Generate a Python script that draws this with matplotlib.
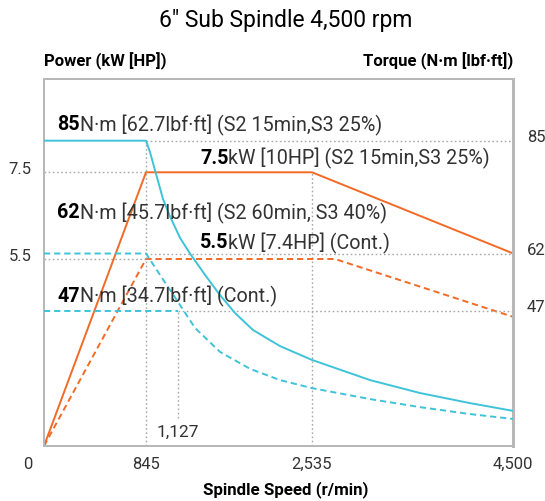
import numpy as np
import matplotlib.pyplot as plt
from matplotlib import transforms
from matplotlib.scale import FuncScale

plt.rcParams['font.family'] = ['Roboto', 'DejaVu Sans']

# ===== data =====
speed_ticks = [0, 845, 2535, 4500]
speed_ticklabels = ['0', '845', '2,535', '4,500']
speed_extra = 1127
power_ticks = [5.5, 7.5]
torque_ticks = [47, 62, 85]

# power curves (kW)
p_s2_speed = [0, 845, 2535, 4500]
p_s2_kw = [0, 7.5, 7.5, 5.63]
p_cont_speed = [0, 845, 2760, 4500]
p_cont_kw = [0, 5.5, 5.5, 3.8]

# torque curves (N·m)
t_s2_speed = [0, 845, 880, 924, 995, 1056, 1148, 1253, 1411, 1568, 1726, 1915,
              2199, 2535, 3102, 3591, 4079, 4500]
t_s2_nm = [85, 85, 82.7, 79.0, 73.1, 69.6, 65.2, 62, 56.4, 51.1, 46.2, 40.3,
           34.7, 29.9, 22.9, 18.4, 14.9, 12.2]
t_60_speed = [0, 845, 968, 1127, 1306, 1568, 1884, 2199, 2535, 3102, 3591, 4079, 4500]
t_60_nm = [62, 62, 56.4, 49.3, 41.0, 32.7, 26.8, 22.9, 20.1, 16.3, 13.5, 11.1, 9.4]
t_cont_speed = [0, 1127]
t_cont_nm = [47, 47]

# ===== layout: the original chart is schematic, axes are anchored at the labelled values =====
x_anchor_val = [0, 845, 1127, 2535, 4500]
x_anchor_pos = [0, 0.2175, 0.2857, 0.5714, 1.0]
t_anchor_val = [0, 47, 62, 85, 97.6]
t_anchor_pos = [0, 0.3687, 0.5245, 0.8319, 1.0]
p_anchor_val = [0, 5.5, 7.5, 9.65]
p_anchor_pos = [0, 0.5095, 0.7458, 1.0]


def piecewise(vals, pos):
    fwd = lambda v: np.interp(v, vals, pos)
    inv = lambda u: np.interp(u, pos, vals)
    return fwd, inv


CYAN = '#3fc3d9'
ORANGE = '#f26a25'
GRID = '#a8a8a8'
TXT = '#333333'
W, H = 545, 501
DASH = (0, (3.2, 2.0))

fig = plt.figure(figsize=(W / 100, H / 100), dpi=100)
ax = fig.add_axes([44 / W, 1 - 446 / H, 469 / W, 367 / H])
ax2 = ax.twinx()

ax.set_xscale(FuncScale(ax, piecewise(x_anchor_val, x_anchor_pos)))
ax.set_yscale(FuncScale(ax, piecewise(p_anchor_val, p_anchor_pos)))
ax2.set_yscale(FuncScale(ax2, piecewise(t_anchor_val, t_anchor_pos)))
ax.set_xlim(0, 4500)
ax.set_ylim(0, p_anchor_val[-1])
ax2.set_ylim(0, t_anchor_val[-1])

# dotted guides
dot = dict(color=GRID, lw=1, ls=(0, (1.2, 1.8)), zorder=1)
ax2.plot([845, 4500], [85, 85], **dot)
ax2.plot([845, 4500], [62, 62], **dot)
ax2.plot([speed_extra, 4500], [47, 47], **dot)
ax.plot([0, 845], [7.5, 7.5], **dot)
ax.plot([0, 845], [5.5, 5.5], **dot)
ax2.plot([845, 845], [0, 85], **dot)
ax2.plot([speed_extra, speed_extra], [9.7, 47], **dot)
ax.plot([2535, 2535], [0, 7.5], **dot)

# curves
ax.plot(p_s2_speed, p_s2_kw, color=ORANGE, lw=1.4, zorder=3)
ax.plot(p_cont_speed, p_cont_kw, color=ORANGE, lw=1.4, ls=DASH, zorder=3)
ax2.plot(t_s2_speed, t_s2_nm, color=CYAN, lw=1.4, zorder=3)
ax2.plot(t_60_speed, t_60_nm, color=CYAN, lw=1.4, ls=DASH, zorder=3)
ax2.plot(t_cont_speed, t_cont_nm, color=CYAN, lw=1.4, ls=DASH, zorder=3)

# ticks
ax.set_xticks(speed_ticks)
ax.set_xticklabels(speed_ticklabels)
ax.set_yticks(power_ticks)
ax.set_yticklabels([str(v) for v in power_ticks])
ax2.set_yticks(torque_ticks)
ax2.set_yticklabels([str(v) for v in torque_ticks])
ax.minorticks_off()
ax2.minorticks_off()
ax.tick_params(axis='x', length=0, pad=8, labelsize=12, labelcolor=TXT)
ax.tick_params(axis='y', length=0, pad=9, labelsize=12, labelcolor=TXT)
ax2.tick_params(axis='y', length=0, pad=10, labelsize=12, labelcolor=TXT)

up = transforms.ScaledTranslation(0, 4.5 / 100, fig.dpi_scale_trans)
for lab in ax.get_yticklabels() + ax2.get_yticklabels():
    lab.set_transform(lab.get_transform() + up)
left = transforms.ScaledTranslation(-16 / 100, 0, fig.dpi_scale_trans)
zero_lab = ax.get_xticklabels()[0]
zero_lab.set_transform(zero_lab.get_transform() + left)

for a in (ax, ax2):
    for s in a.spines.values():
        s.set_color('#b8b8b8')
        s.set_linewidth(1.3)
ax2.spines['right'].set_linewidth(2.2)
ax.set_facecolor('none')


def px(x, y):
    return x / W, 1 - y / H


# annotations
fs = 14.2
notes = [
    (57, 125, '85', 'N·m [62.7lbf·ft] (S2 15min,S3 25%)'),
    (200, 158, '7.5', 'kW [10HP] (S2 15min,S3 25%)'),
    (57, 213, '62', 'N·m [45.7lbf·ft] (S2 60min, S3 40%)'),
    (200, 243, '5.5', 'kW [7.4HP] (Cont.)'),
    (57, 296, '47', 'N·m [34.7lbf·ft] (Cont.)'),
]
for x, y, bold, rest in notes:
    t = fig.text(*px(x, y), bold, fontsize=fs, fontweight='bold', color='black', va='center', ha='left')
    fig.canvas.draw()
    bb = t.get_window_extent()
    fig.text(bb.x1 / W, 1 - y / H, rest, fontsize=fs, color=TXT, va='center', ha='left')

fig.text(*px(178, 432), '1,127', fontsize=12.5, color=TXT, ha='center', va='center')

fig.text(*px(286, 20), '6\u2033 Sub Spindle 4,500 rpm', fontsize=16.5, color='black', ha='center', va='center')
fig.text(*px(44, 61), 'Power (kW [HP])', fontsize=12, fontweight='bold', ha='left', va='center')
fig.text(*px(513, 61), 'Torque (N·m [lbf·ft])', fontsize=12, fontweight='bold', ha='right', va='center')
fig.text(*px(285.5, 490), 'Spindle Speed (r/min)', fontsize=12.2, fontweight='bold', ha='center', va='center')

fig.savefig('out.png', dpi=100)
